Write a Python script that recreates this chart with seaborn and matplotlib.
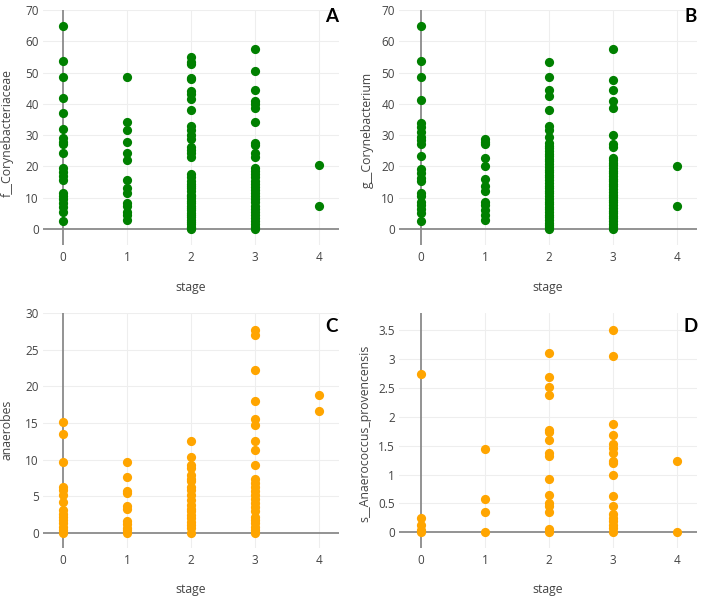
import matplotlib
matplotlib.use("Agg")
import matplotlib.pyplot as plt
import seaborn as sns
import pandas as pd

# ---------------- data ----------------
stages = [0, 1, 2, 3, 4]

# Panel A: f__Corynebacteriaceae
fam_s0 = [64.8, 53.6, 48.5, 42.0, 37.0, 32.1, 29.2, 27.9, 27.2, 24.4, 19.4, 18.3,
          17.0, 15.8, 11.6, 10.6, 9.5, 8.3, 7.2, 5.3, 2.7]
fam_s1 = [48.5, 34.3, 31.6, 27.7, 24.2, 22.1, 15.7, 13.0, 11.6, 8.4, 7.4, 5.5, 4.5, 2.9]
fam_s2 = [55.1, 53.5, 52.6, 48.4, 47.9, 44.2, 43.3, 41.4, 38.2, 32.9, 31.6, 30.0, 28.7,
          26.3, 25.2, 24.2, 22.9, 17.5, 16.5, 15.5, 14.5, 13.8, 13.0, 12.0, 11.0, 10.5,
          9.8, 9.0, 8.2, 7.5, 6.8, 6.0, 5.2, 4.5, 3.8, 3.0, 2.2, 1.5, 0.8, 0.3, 0.0]
fam_s3 = [57.4, 50.5, 44.5, 41.0, 40.0, 38.6, 34.1, 27.6, 26.7, 24.4, 23.1, 19.4, 18.5,
          17.5, 16.5, 15.5, 14.5, 13.5, 12.5, 11.5, 10.5, 9.5, 8.5, 7.5, 6.5, 5.5, 4.5,
          3.5, 2.5, 1.5, 0.5, 0.0]
fam_s4 = [20.5, 7.5]

# Panel B: g__Corynebacterium
gen_s0 = [64.8, 53.6, 48.5, 41.2, 33.8, 32.7, 31.1, 29.5, 28.4, 27.2, 23.3, 19.2, 17.8,
          16.2, 15.4, 11.6, 10.5, 8.7, 7.7, 6.3, 5.0, 2.6]
gen_s1 = [28.8, 27.9, 27.2, 22.6, 20.2, 15.9, 13.7, 12.3, 8.7, 7.7, 6.1, 4.5, 2.9]
gen_s2 = [53.4, 48.6, 44.4, 42.6, 38.2, 32.9, 31.6, 29.5, 27.4, 26.6, 25.8, 25.0, 24.1,
          23.3, 22.4, 21.6, 20.7, 19.9, 19.0, 18.2, 17.3, 16.5, 15.6, 14.8, 13.9, 13.1,
          12.2, 11.4, 10.5, 9.7, 8.8, 8.0, 7.1, 6.3, 5.4, 4.6, 3.7, 2.9, 2.0, 1.2, 0.5, 0.0]
gen_s3 = [57.4, 47.6, 44.5, 40.9, 38.6, 30.0, 27.2, 26.3, 22.6, 22.0, 21.2, 20.4, 19.5,
          18.7, 17.8, 17.0, 16.1, 15.3, 14.4, 13.6, 12.7, 11.9, 11.0, 10.2, 9.3, 8.5, 7.6,
          6.8, 5.9, 5.1, 4.2, 3.4, 2.5, 1.7, 0.8, 0.0]
gen_s4 = [20.2, 7.5]

# Panel C: anaerobes
ana_s0 = [15.1, 13.5, 9.6, 6.3, 5.8, 5.2, 4.2, 3.1, 2.6, 2.2, 1.7, 1.3, 0.8, 0.4, 0.0]
ana_s1 = [9.6, 7.6, 5.7, 5.4, 3.6, 3.3, 1.6, 1.2, 0.7, 0.4, 0.0]
ana_s2 = [12.6, 10.4, 9.2, 8.8, 7.9, 7.4, 7.0, 6.3, 5.8, 5.2, 4.5, 3.8, 3.3, 2.9, 2.4,
          2.0, 1.5, 1.0, 0.6, 0.0]
ana_s3 = [27.7, 27.0, 22.3, 18.0, 15.6, 14.7, 12.5, 11.3, 9.3, 7.3, 6.8, 6.3, 5.7, 5.2,
          4.6, 4.0, 3.5, 2.9, 2.2, 1.7, 1.3, 0.8, 0.4, 0.0]
ana_s4 = [18.8, 16.6]

# Panel D: s__Anaerococcus_provencensis
spe_s0 = [2.74, 0.25, 0.13, 0.05, 0.0]
spe_s1 = [1.44, 0.58, 0.36, 0.0]
spe_s2 = [3.10, 2.69, 2.51, 2.38, 1.77, 1.73, 1.60, 1.37, 1.32, 0.92, 0.65, 0.51, 0.45,
          0.35, 0.06, 0.0]
spe_s3 = [3.50, 3.05, 1.87, 1.69, 1.53, 1.46, 1.37, 1.23, 1.20, 0.99, 0.63, 0.45, 0.31,
          0.25, 0.19, 0.13, 0.07, 0.0]
spe_s4 = [1.23, 0.0]

y_titles = ["f__Corynebacteriaceae", "g__Corynebacterium", "anaerobes",
            "s__Anaerococcus_provencensis"]
panel_letters = ["A", "B", "C", "D"]
y_ticks_A = [0, 10, 20, 30, 40, 50, 60, 70]
y_ticks_C = [0, 5, 10, 15, 20, 25, 30]
y_ticks_D = [0, 0.5, 1, 1.5, 2, 2.5, 3, 3.5]
y_ticklabels_D = ["0", "0.5", "1", "1.5", "2", "2.5", "3", "3.5"]

GREEN = "#008000"
ORANGE = "#FFA500"


def make_df(cols):
    xs, ys = [], []
    for st, vals in zip(stages, cols):
        xs += [st] * len(vals)
        ys += vals
    return pd.DataFrame({"stage": xs, "value": ys})


panels = [
    dict(df=make_df([fam_s0, fam_s1, fam_s2, fam_s3, fam_s4]), color=GREEN,
         rect=(43, 10, 339, 245), ylim=(-5.1, 70), yticks=y_ticks_A, ylabels=None,
         xlim=(-0.31, 4.31), ylab_x=-36, ylab_y=133, letter_xy=(331.7, 16)),
    dict(df=make_df([gen_s0, gen_s1, gen_s2, gen_s3, gen_s4]), color=GREEN,
         rect=(399, 10, 697, 245), ylim=(-5.1, 70), yticks=y_ticks_A, ylabels=None,
         xlim=(-0.34, 4.31), ylab_x=-32, ylab_y=130, letter_xy=(691, 16)),
    dict(df=make_df([ana_s0, ana_s1, ana_s2, ana_s3, ana_s4]), color=ORANGE,
         rect=(43, 313.3, 339, 548), ylim=(-2.1, 30), yticks=y_ticks_C, ylabels=None,
         xlim=(-0.31, 4.31), ylab_x=-36, ylab_y=430, letter_xy=(331.7, 326)),
    dict(df=make_df([spe_s0, spe_s1, spe_s2, spe_s3, spe_s4]), color=ORANGE,
         rect=(399, 313.3, 697, 548), ylim=(-0.27, 3.79), yticks=y_ticks_D,
         ylabels=y_ticklabels_D, xlim=(-0.34, 4.31), ylab_x=-34, ylab_y=433,
         letter_xy=(691, 326)),
]

sns.set_theme(style="white")
plt.rcParams["font.family"] = ["Open Sans", "DejaVu Sans"]

W, H = 704, 600
fig = plt.figure(figsize=(W / 100, H / 100), dpi=100)

for i, p in enumerate(panels):
    l, t, r, b = p["rect"]
    ax = fig.add_axes([l / W, 1 - b / H, (r - l) / W, (b - t) / H])
    ax.set_facecolor("white")
    for s in ax.spines.values():
        s.set_visible(False)
    ax.set_xlim(*p["xlim"])
    ax.set_ylim(*p["ylim"])
    ax.set_xticks(stages)
    ax.set_yticks(p["yticks"])
    if p["ylabels"] is not None:
        ax.set_yticklabels(p["ylabels"])
    # grid
    for xv in stages[1:]:
        ax.axvline(xv, color="#eeeeee", lw=0.8, zorder=0)
    for yv in p["yticks"][1:]:
        ax.axhline(yv, color="#eeeeee", lw=0.8, zorder=0)
    ax.axhline(0, color="#8a8a8a", lw=1.3, zorder=1)
    ax.axvline(0, color="#8a8a8a", lw=1.3, zorder=1)

    sns.scatterplot(data=p["df"], x="stage", y="value", ax=ax, color=p["color"],
                    s=44, linewidth=0, zorder=3, legend=False)

    ax.tick_params(axis="both", length=0, labelsize=8.5, labelcolor="#444444")
    ax.tick_params(axis="x", pad=4)
    ax.tick_params(axis="y", pad=3)
    h = b - t
    w = r - l
    ax.set_xlabel("stage", fontsize=8.8, color="#444444", va="center")
    ax.xaxis.set_label_coords(0.5, -42 / h)
    ax.set_ylabel(y_titles[i], fontsize=8.8, color="#444444", va="center")
    ax.yaxis.set_label_coords(p["ylab_x"] / w, 1 - (p["ylab_y"] - t) / h)

    lx, ly = p["letter_xy"]
    fig.text(lx / W, 1 - ly / H, panel_letters[i], fontsize=13.5, fontweight="bold",
             family=["Lato", "DejaVu Sans"], ha="center", va="center", color="black")

fig.savefig("out.png", dpi=100, facecolor="white")
